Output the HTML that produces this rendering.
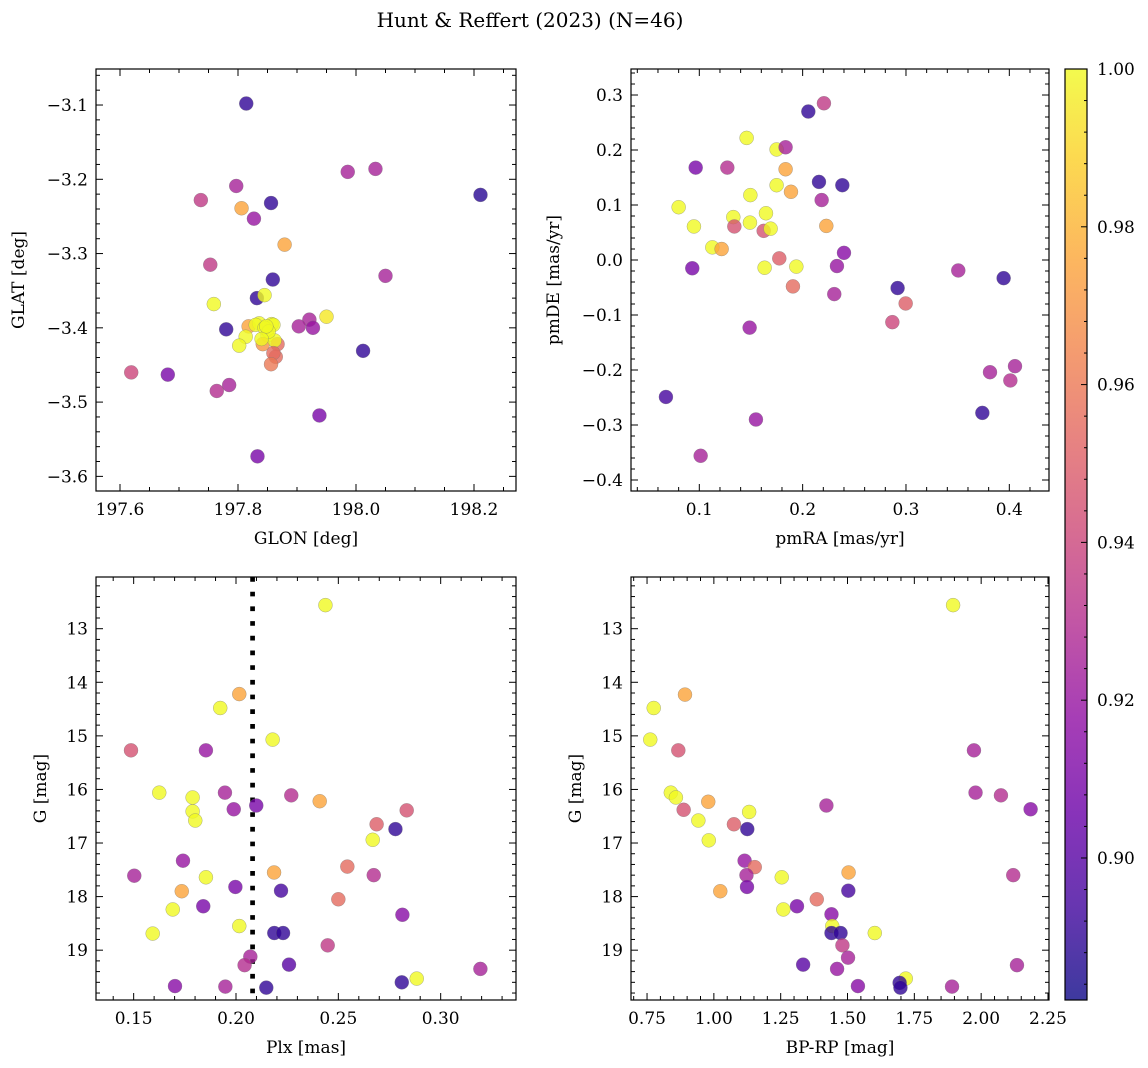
<!DOCTYPE html>
<html><head><meta charset="utf-8">
<style>
html,body{margin:0;padding:0;background:#fff;}
svg{display:block;font-family:"DejaVu Serif","Liberation Serif",serif;}
</style></head>
<body>
<svg id="fig" width="1148" height="1068" viewBox="0 0 1148 1068" xmlns="http://www.w3.org/2000/svg">
<defs>
<linearGradient id="plasma" x1="0" y1="1" x2="0" y2="0"></linearGradient>
</defs>
<text x="530" y="27" text-anchor="middle" font-size="20">Hunt &amp; Reffert (2023) (N=46)</text>
<g id="layer"></g>
</svg>
<script>
// ---- Panel 1: GLON vs GLAT ----
const p1Glon=[197.814,197.986,198.033,198.211,197.797,197.737,197.806,197.856,197.827,197.879,197.753,198.050,197.859,197.832,197.845,197.759,197.950,197.921,197.903,197.927,197.780,197.818,197.836,197.830,197.857,197.860,197.813,197.802,197.850,197.842,197.867,197.862,197.864,197.860,197.856,198.012,197.619,197.681,197.785,197.764,197.938,197.833,197.845,197.852,197.840,197.848];
const p1Glat=[-3.098,-3.190,-3.186,-3.221,-3.209,-3.228,-3.239,-3.232,-3.253,-3.288,-3.315,-3.330,-3.335,-3.360,-3.356,-3.368,-3.385,-3.389,-3.398,-3.400,-3.402,-3.398,-3.394,-3.396,-3.395,-3.396,-3.412,-3.424,-3.410,-3.422,-3.422,-3.417,-3.439,-3.434,-3.449,-3.431,-3.460,-3.463,-3.477,-3.485,-3.518,-3.573,-3.400,-3.405,-3.415,-3.398];
const p1Prob=[0.89,0.925,0.925,0.888,0.925,0.935,0.975,0.89,0.92,0.975,0.935,0.925,0.89,0.89,1.0,1.0,0.995,0.925,0.925,0.92,0.89,0.975,1.0,1.0,1.0,1.0,1.0,1.0,1.0,0.97,0.955,1.0,0.955,0.955,0.96,0.89,0.94,0.91,0.925,0.93,0.91,0.91,1.0,1.0,1.0,1.0];
// ---- Panel 2: pmRA vs pmDE ----
const p2Pmra=[0.2055,0.2206,0.1458,0.1748,0.1835,0.0965,0.1271,0.1835,0.2158,0.2384,0.1748,0.1887,0.1494,0.2184,0.080,0.1645,0.1329,0.149,0.1339,0.0948,0.2229,0.1623,0.169,0.1126,0.1216,0.240,0.1774,0.0932,0.1632,0.1939,0.2332,0.3506,0.3945,0.1906,0.2306,0.2919,0.2997,0.2868,0.1487,0.4055,0.3813,0.401,0.0677,0.3739,0.1548,0.1013];
const p2Pmde=[0.270,0.285,0.222,0.201,0.205,0.168,0.168,0.165,0.142,0.136,0.136,0.124,0.118,0.109,0.096,0.085,0.078,0.068,0.061,0.061,0.062,0.053,0.057,0.023,0.020,0.013,0.003,-0.015,-0.014,-0.012,-0.011,-0.019,-0.033,-0.048,-0.062,-0.051,-0.079,-0.113,-0.123,-0.193,-0.204,-0.219,-0.249,-0.278,-0.290,-0.356];
const p2Prob=[0.89,0.935,1.0,1.0,0.925,0.91,0.93,0.975,0.89,0.89,1.0,0.975,1.0,0.925,1.0,1.0,1.0,1.0,0.945,1.0,0.975,0.945,1.0,1.0,0.975,0.915,0.95,0.91,1.0,1.0,0.92,0.925,0.89,0.955,0.925,0.89,0.95,0.94,0.92,0.925,0.925,0.93,0.895,0.89,0.92,0.925];
// ---- Panel 3: Plx vs G ----
const p3Plx=[0.2437,0.2016,0.1923,0.2179,0.1487,0.1853,0.1625,0.1788,0.1946,0.2270,0.2409,0.1989,0.2099,0.1788,0.1801,0.2834,0.2687,0.2779,0.2668,0.1741,0.1503,0.1853,0.2186,0.2544,0.2673,0.1735,0.1997,0.222,0.250,0.1691,0.1840,0.2813,0.2016,0.1593,0.2187,0.223,0.2448,0.207,0.2042,0.2259,0.3194,0.2883,0.281,0.1702,0.1948,0.2148];
const p3G=[12.56,14.22,14.48,15.07,15.27,15.27,16.06,16.15,16.06,16.11,16.22,16.37,16.30,16.41,16.58,16.39,16.65,16.74,16.94,17.33,17.61,17.64,17.55,17.44,17.60,17.90,17.82,17.89,18.05,18.24,18.18,18.34,18.55,18.69,18.68,18.68,18.91,19.12,19.28,19.27,19.35,19.53,19.60,19.67,19.68,19.70];
const p3Prob=[1.0,0.975,1.0,1.0,0.945,0.92,1.0,1.0,0.925,0.93,0.975,0.92,0.91,1.0,1.0,0.945,0.95,0.89,1.0,0.92,0.925,1.0,0.975,0.955,0.93,0.975,0.91,0.895,0.955,1.0,0.91,0.915,1.0,1.0,0.89,0.89,0.935,0.925,0.93,0.9,0.925,1.0,0.89,0.915,0.925,0.89];
const plxMean=0.2081;
// ---- Panel 4: BP-RP vs G ----
const p4Bprp=[1.895,0.892,0.775,0.762,0.867,1.973,0.839,0.858,1.979,2.074,0.979,1.421,2.185,0.887,1.132,0.942,1.075,1.125,0.981,1.115,1.153,1.122,2.120,1.254,1.504,1.124,1.024,1.503,1.385,1.260,1.311,1.440,1.443,1.440,1.474,1.602,1.481,1.502,1.334,1.461,2.134,1.718,1.695,1.698,1.539,1.891];
const p4G=[12.56,14.23,14.48,15.07,15.27,15.27,16.06,16.15,16.06,16.11,16.23,16.30,16.37,16.38,16.42,16.58,16.65,16.74,16.95,17.33,17.45,17.60,17.60,17.64,17.55,17.82,17.90,17.89,18.05,18.24,18.18,18.33,18.55,18.68,18.68,18.68,18.91,19.14,19.27,19.35,19.28,19.53,19.61,19.70,19.67,19.68];
const p4Prob=[1.0,0.975,1.0,1.0,0.945,0.925,1.0,1.0,0.925,0.93,0.975,0.925,0.915,0.945,1.0,1.0,0.95,0.89,1.0,0.92,0.955,0.925,0.93,1.0,0.975,0.91,0.975,0.895,0.955,1.0,0.91,0.915,1.0,0.89,0.89,1.0,0.935,0.925,0.9,0.92,0.925,1.0,0.89,0.89,0.915,0.925];
// colorbar
const cbTicks=[0.90,0.92,0.94,0.96,0.98,1.00];
const cbMin=0.882, cbMax=1.0;

const NS="http://www.w3.org/2000/svg";
const layer=document.getElementById('layer');
function mk(tag,attrs,parent){const e=document.createElementNS(NS,tag);for(const k in attrs)e.setAttribute(k,attrs[k]);(parent||layer).appendChild(e);return e;}
const stops=[[0,13,8,135],[0.1,65,4,157],[0.2,106,0,168],[0.3,143,13,164],[0.4,177,42,144],[0.5,204,71,120],[0.6,225,100,98],[0.7,242,132,75],[0.8,252,166,54],[0.9,252,206,37],[1,240,249,33]];
function plasma(t){t=Math.max(0,Math.min(1,t));for(let i=1;i<stops.length;i++){if(t<=stops[i][0]){const a=stops[i-1],b=stops[i],f=(t-a[0])/(b[0]-a[0]);return `rgb(${Math.round(a[1]+f*(b[1]-a[1]))},${Math.round(a[2]+f*(b[2]-a[2]))},${Math.round(a[3]+f*(b[3]-a[3]))})`;}}return 'rgb(240,249,33)';}
function pcol(p){return plasma((p-cbMin)/(cbMax-cbMin));}
function fmt(v,d){const s=Math.abs(v).toFixed(d);return (v<-1e-9?'\u2212':'')+s;}

function panel(cfg){
  const {name,x0,x1,y0,y1,xd,yd,xMaj,xMin,yMaj,yMin,xDec,yDec,xLabel,yLabel,yLabelX}=cfg;
  const g=mk('g',{});
  
  
  const sx=v=>x0+(v-xd[0])/(xd[1]-xd[0])*(x1-x0);
  const sy=v=>y1-(v-yd[0])/(yd[1]-yd[0])*(y1-y0);
  const clipId=name+'-clip';
  const cp=mk('clipPath',{id:clipId},g);mk('rect',{x:x0,y:y0,width:x1-x0,height:y1-y0},cp);
  const ticks=mk('g',{stroke:'#000','stroke-width':1},g);
  
  
  function each(a,b,step,fn){const n=Math.round((b-a)/step);for(let i=0;i<=n+1;i++){const v=a+i*step;fn(v);}}
  const xs=Math.ceil(xd[0]/xMin-1e-6)*xMin, ys=Math.ceil(yd[0]/yMin-1e-6)*yMin;
  each(xs,xd[1],xMin,v=>{if(v>xd[1]+1e-9)return;const px=sx(v);const maj=Math.abs(v/xMaj-Math.round(v/xMaj))<1e-4;const L=maj?7:4;
    mk('line',{x1:px,y1:y1,x2:px,y2:y1-L},ticks);mk('line',{x1:px,y1:y0,x2:px,y2:y0+L},ticks);
    if(maj){const t=mk('text',{x:px,y:y1+24,'text-anchor':'middle','font-size':17,stroke:'none'},g);t.textContent=fmt(v,xDec);
      }});
  each(ys,yd[1],yMin,v=>{if(v>yd[1]+1e-9)return;const py=sy(v);const maj=Math.abs(v/yMaj-Math.round(v/yMaj))<1e-4;const L=maj?7:4;
    mk('line',{x1:x0,y1:py,x2:x0+L,y2:py},ticks);mk('line',{x1:x1,y1:py,x2:x1-L,y2:py},ticks);
    if(maj){const t=mk('text',{x:x0-8,y:py+6,'text-anchor':'end','font-size':17,stroke:'none'},g);t.textContent=fmt(v,yDec);
      }});
  const pts=mk('g',{'clip-path':`url(#${clipId})`},g);
  
  
  if(cfg.vline!==undefined){const l=mk('line',{x1:sx(cfg.vline),x2:sx(cfg.vline),y1:y0,y2:y1,stroke:'#000','stroke-width':4.7,'stroke-dasharray':'4.7 10'},pts);
    }
  cfg.xs.forEach((xv,i)=>{const c=mk('circle',{cx:sx(xv),cy:sy(cfg.ys[i]),r:7,fill:pcol(cfg.ps[i]),'fill-opacity':0.8,stroke:'#777','stroke-opacity':0.6,'stroke-width':0.5},pts);
    });
  const fr=mk('rect',{x:x0,y:y0,width:x1-x0,height:y1-y0,fill:'none',stroke:'#000','stroke-width':1.2},g);
  
  const xl=mk('text',{x:(x0+x1)/2,y:y1+53,'text-anchor':'middle','font-size':17},g);xl.textContent=xLabel;
  
  const yc=(y0+y1)/2;
  const yl=mk('text',{x:yLabelX,y:yc,'text-anchor':'middle','font-size':17,transform:`rotate(-90 ${yLabelX} ${yc})`},g);yl.textContent=yLabel;
  
}

panel({name:'position-panel',x0:96,x1:516,y0:69,y1:491,xd:[197.5593,198.2712],yd:[-3.6197,-3.0515],xMaj:0.2,xMin:0.05,yMaj:0.1,yMin:0.02,xDec:1,yDec:1,xLabel:'GLON [deg]',yLabel:'GLAT [deg]',yLabelX:24,xs:p1Glon,ys:p1Glat,ps:p1Prob});
panel({name:'proper-motion-panel',x0:631,x1:1049,y0:69,y1:491,xd:[0.0339,0.4384],yd:[-0.42,0.3473],xMaj:0.1,xMin:0.02,yMaj:0.1,yMin:0.02,xDec:1,yDec:1,xLabel:'pmRA [mas/yr]',yLabel:'pmDE [mas/yr]',yLabelX:559,xs:p2Pmra,ys:p2Pmde,ps:p2Prob});
panel({name:'parallax-panel',x0:96,x1:516,y0:577,y1:1000,xd:[0.1316,0.3368],yd:[-19.93,-12.035],xMaj:0.05,xMin:0.01,yMaj:1,yMin:0.2,xDec:2,yDec:0,xLabel:'Plx [mas]',yLabel:'G [mag]',yLabelX:46,xs:p3Plx,ys:p3G.map(v=>-v),ps:p3Prob,vline:plxMean});
panel({name:'cmd-panel',x0:631,x1:1049,y0:577,y1:1000,xd:[0.690,2.2538],yd:[-19.93,-12.035],xMaj:0.25,xMin:0.05,yMaj:1,yMin:0.2,xDec:2,yDec:0,xLabel:'BP-RP [mag]',yLabel:'G [mag]',yLabelX:581,xs:p4Bprp,ys:p4G.map(v=>-v),ps:p4Prob});
// fix negative labels of G axes (they are magnitudes shown positive)
document.querySelectorAll('#layer text').forEach(t=>{if(/^\u2212\d+$/.test(t.textContent))t.textContent=t.textContent.slice(1);});

// colorbar
const grad=document.getElementById('plasma');
for(let i=0;i<=20;i++){const t=i/20;mk('stop',{offset:t,'stop-color':plasma(t),'stop-opacity':0.8},grad);}
const cb=mk('g',{});


const cx0=1065,cx1=1087,cy0=69,cy1=1000;
mk('rect',{x:cx0,y:cy0,width:cx1-cx0,height:cy1-cy0,fill:'url(#plasma)'},cb);
const cby=v=>cy1-(v-cbMin)/(cbMax-cbMin)*(cy1-cy0);
for(let v=0.884;v<=1.0001;v+=0.004){const py=cby(v);const maj=cbTicks.some(t=>Math.abs(t-v)<1e-4);mk('line',{x1:cx1,x2:cx1-(maj?6:3),y1:py,y2:py,stroke:'#000','stroke-width':1},cb);}
cbTicks.forEach(v=>{const t=mk('text',{x:cx1+10,y:cby(v)+6,'font-size':17},cb);t.textContent=v.toFixed(2);
  });
mk('rect',{x:cx0,y:cy0,width:cx1-cx0,height:cy1-cy0,fill:'none',stroke:'#000','stroke-width':1.2},cb);
</script>
</body></html>
